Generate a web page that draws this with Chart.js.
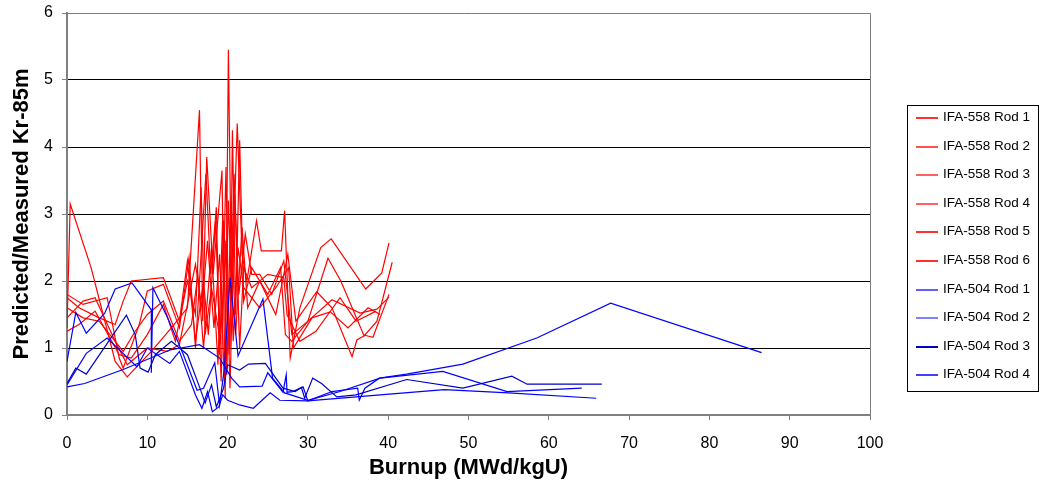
<!DOCTYPE html>
<html>
<head>
<meta charset="utf-8">
<script src="https://cdn.jsdelivr.net/npm/chart.js@4.4.1/dist/chart.umd.min.js"></script>
<style>
    html, body { margin: 0; padding: 0; background: #fff; }
    #wrap { position: relative; width: 1047px; height: 489px; }
    #legend {
        position: absolute; left: 907px; top: 105px; width: 132px; height: 287px;
        border: 1px solid #000; box-sizing: border-box;
        font-family: 'Liberation Sans', Arial, sans-serif; font-size: 13.5px; color: #000;
    }
    .lg-item { position: absolute; left: 8px; height: 16px; line-height: 16px; white-space: nowrap; }
    .lg-line { position: absolute; left: 0; top: 8px; width: 22px; height: 2px; }
    .lg-text { position: absolute; left: 27px; top: 0; }
</style>
</head>
<body>
<div id="wrap">
    <canvas id="chart" width="1047" height="489"></canvas>
    <div id="legend"></div>
</div>
<script>
// ─── Data (burnup MWd/kgU, predicted/measured) ─────────────
const ifa558Rod1 = [[0,1.3],[0.4,3.15],[3,2.2],[6,0.8],[7.5,0.57],[10.5,0.95],[13,1.3],[15,1.6],[16.5,4.55],[16.9,1.4],[17.4,3.85],[18.2,2.1],[19.3,3.65],[19.7,0.25],[20.1,5.45],[20.5,1.7],[21.2,4.35],[21.8,2.4],[22.4,2.0],[23.6,2.9],[24.2,2.45],[26.7,2.45],[27.1,3.05],[27.8,0.85],[29,1.6],[31.6,2.5],[32.9,2.63],[37.2,1.88],[39.2,2.12],[40.1,2.57]];
const ifa558Rod2 = [[0,1.8],[2,1.65],[5,1.75],[6.5,0.85],[7,0.7],[9,1.35],[10,1.85],[12,1.95],[14,1.3],[15.2,2.35],[16,1.0],[17.3,3.6],[17.9,2.1],[18.6,3.1],[19,0.9],[19.5,2.9],[20.3,1.0],[20.6,4.25],[21,1.5],[21.5,4.1],[22,1.7],[23,2.2],[25,1.8],[26.6,2.2],[27.2,1.2],[28,1.1],[30,1.4],[32.5,2.34],[34.1,2.0],[37,1.18],[38.6,1.4],[40.5,2.28]];
const ifa558Rod3 = [[0,1.75],[1.5,1.6],[4,1.45],[6,1.35],[7,1.7],[8,2.0],[12,2.05],[14,1.4],[15,2.3],[16,1.1],[17,2.0],[17.6,1.2],[18.5,2.9],[19.2,0.5],[19.8,3.7],[20.2,0.9],[20.8,3.6],[21.4,1.8],[22.2,2.7],[23,2.1],[24,2.1],[25.5,1.8],[27,2.3],[28,1.2],[29.9,1.39],[33,1.72],[36.5,1.52],[38.6,1.58],[40.1,1.76]];
const ifa558Rod4 = [[0,1.6],[2,1.45],[4,1.4],[7,0.95],[8.5,1.25],[10,1.5],[12,1.7],[14,1.1],[15.5,1.35],[16.3,2.1],[17,1.0],[18,2.5],[18.8,0.75],[19.4,3.0],[19.9,0.6],[20.4,3.1],[21,1.2],[21.8,2.8],[22.5,1.6],[24,2.0],[26,1.5],[27.5,2.4],[28.5,1.4],[31.1,1.84],[33,1.6],[35.5,0.87],[36.1,1.12],[37.1,1.19],[38.1,1.16],[40.1,1.8]];
const ifa558Rod5 = [[0,1.45],[2,1.7],[3.5,1.75],[6,1.1],[7.5,0.75],[10,1.0],[12.5,0.95],[14,1.05],[16,2.25],[16.8,1.6],[17.5,2.6],[18.3,1.3],[19,2.4],[19.6,0.5],[20.1,3.2],[20.7,1.1],[21.3,2.5],[22,1.9],[24,1.6],[26,1.9],[27.6,2.2],[28.2,1.0],[30.5,1.45],[32.8,1.54],[35,1.3],[37.5,1.6],[39,1.5]];
const ifa558Rod6 = [[0,1.25],[1.5,1.35],[3.5,1.55],[6.5,0.9],[8,0.85],[10,1.2],[12,1.65],[13.5,1.1],[15,2.0],[16,1.5],[16.7,3.4],[17.2,1.2],[18,1.9],[19.1,1.1],[19.8,2.6],[20.3,0.4],[20.9,3.3],[21.5,1.0],[22,2.2],[23,1.9],[25,2.1],[27,2.05],[27.4,1.5],[29,1.1],[31,1.25],[34,1.75],[36,1.4],[38.5,1.55]];

const ifa504Rod1 = [[0,0.42],[2.2,0.47],[7,0.68],[12.8,0.97],[16.5,1.05],[19,0.85],[20.5,0.55],[21.5,0.42],[24.3,0.43],[25,0.63],[26.9,0.34],[27.3,0.6],[27.4,0.34],[28.1,0.35],[29.4,0.42],[30,0.21],[33,0.35],[36.2,0.4],[36.4,0.22],[37.1,0.4],[38.9,0.55],[42.3,0.61],[49.3,0.76],[58.5,1.15],[67.7,1.67],[86.5,0.93]];
const ifa504Rod2 = [[0,0.8],[1.1,1.53],[2.4,1.22],[4.7,1.52],[6,1.88],[8.1,1.97],[10.5,1.57],[10.5,0.63],[10.7,1.9],[12.5,1.46],[14.5,0.9],[16.2,0.37],[17,0.4],[18.4,0.78],[19,0.15],[19.6,0.7],[20.3,2.05],[21.3,0.88],[24.4,1.73],[25.6,0.55],[27.1,0.33],[30,0.22],[34,0.35],[39,0.55],[46.8,0.65],[54.8,0.35],[64.1,0.4]];
const ifa504Rod3 = [[0,0.47],[1.1,0.7],[2.4,0.61],[7.4,1.49],[8.5,1.2],[9.1,0.7],[10.1,0.64],[11,0.9],[13,1.1],[15,0.9],[16.5,0.42],[17.2,0.18],[18,0.45],[18.6,0.12],[19.5,0.4],[20,0.75],[21.5,0.67],[22.6,0.76],[24.7,0.77],[26.9,0.4],[28.4,0.35],[29.2,0.41],[29.6,0.25],[30.6,0.55],[31.7,0.47],[33.6,0.27],[36,0.3],[42.3,0.53],[49.3,0.4],[55.4,0.58],[57.3,0.46],[66.6,0.46]];
const ifa504Rod4 = [[0,0.45],[2.4,0.92],[5,1.15],[8.7,0.72],[10,1.0],[12.8,0.77],[14,0.95],[16,0.3],[16.8,0.1],[17.5,0.35],[18.1,0.05],[18.9,0.12],[19.4,0.3],[20,0.22],[21.5,0.15],[23.2,0.1],[25.3,0.33],[26.5,0.22],[30,0.21],[39,0.3],[47,0.38],[55,0.33],[65.9,0.25]];

const seriesNames = ['IFA-558 Rod 1', 'IFA-558 Rod 2', 'IFA-558 Rod 3', 'IFA-558 Rod 4', 'IFA-558 Rod 5', 'IFA-558 Rod 6',
                     'IFA-504 Rod 1', 'IFA-504 Rod 2', 'IFA-504 Rod 3', 'IFA-504 Rod 4'];
const seriesData = [ifa558Rod1, ifa558Rod2, ifa558Rod3, ifa558Rod4, ifa558Rod5, ifa558Rod6,
                    ifa504Rod1, ifa504Rod2, ifa504Rod3, ifa504Rod4];
const seriesColors = ['#ff0000', '#ff0000', '#ff0000', '#ff0000', '#ff0000', '#ff0000',
                      '#0000ff', '#0000ff', '#0000cc', '#0000ff'];
const legendColors = ['#ff3030', '#ff5050', '#ff6060', '#ff6060', '#ff3030', '#ff3030',
                      '#6060ff', '#8080ff', '#0000c0', '#4040ff'];
const xTicks = [0, 10, 20, 30, 40, 50, 60, 70, 80, 90, 100];
const yTicks = [0, 1, 2, 3, 4, 5, 6];

const FONT = "'Liberation Sans', Arial, sans-serif";
const AXIS = '#808080';

// plot frame (top + right edges)
const frame = {
    id: 'frame',
    afterDatasetsDraw(chart) {
        const { ctx, chartArea: a } = chart;
        ctx.save();
        ctx.strokeStyle = AXIS;
        ctx.lineWidth = 1;
        ctx.beginPath();
        ctx.moveTo(a.left, Math.round(a.top) + 0.5);
        ctx.lineTo(Math.round(a.right) + 0.5, Math.round(a.top) + 0.5);
        ctx.lineTo(Math.round(a.right) + 0.5, a.bottom);
        ctx.stroke();
        ctx.restore();
    }
};

const datasets = seriesData.map((pts, i) => ({
    label: seriesNames[i],
    data: pts.map(p => ({ x: p[0], y: p[1] })),
    borderColor: seriesColors[i],
    backgroundColor: seriesColors[i],
    borderWidth: 1.2,
    pointRadius: 0,
    showLine: true,
    tension: 0,
    order: -i
}));

new Chart(document.getElementById('chart'), {
    type: 'scatter',
    data: { datasets },
    options: {
        responsive: false, animation: false,
        layout: { padding: { top: 13, right: 177, left: 0, bottom: 0 } },
        plugins: { legend: { display: false }, tooltip: { enabled: false } },
        scales: {
            x: {
                type: 'linear', min: 0, max: 100,
                afterFit: s => { s.height = 74; s.paddingLeft = 0; s.paddingRight = 0; },
                afterBuildTicks: s => { s.ticks = xTicks.map(v => ({ value: v })); },
                border: { color: AXIS, width: 2 },
                grid: { drawOnChartArea: false, color: AXIS, tickLength: 5 },
                ticks: { color: '#000', padding: 14, maxRotation: 0, font: { family: FONT, size: 16 } },
                title: { display: true, text: 'Burnup (MWd/kgU)', color: '#000', padding: { top: 0, bottom: 8 },
                         font: { family: FONT, size: 22, weight: 'bold' } }
            },
            y: {
                type: 'linear', min: 0, max: 6,
                afterFit: s => { s.width = 67; s.paddingTop = 0; s.paddingBottom = 0; },
                afterBuildTicks: s => { s.ticks = yTicks.map(v => ({ value: v })); },
                border: { color: AXIS, width: 2 },
                grid: { color: '#000', lineWidth: 1, tickLength: 5, tickColor: AXIS },
                ticks: { color: '#000', padding: 9, font: { family: FONT, size: 16 } },
                title: { display: true, text: 'Predicted/Measured Kr-85m', color: '#000', padding: { top: 9, bottom: 0 },
                         font: { family: FONT, size: 22, weight: 'bold' } }
            }
        }
    },
    plugins: [frame]
});

// ─── Legend ─────────────────────────────────────────────────
const legend = document.getElementById('legend');
seriesNames.forEach((name, i) => {
    const item = document.createElement('div');
    item.className = 'lg-item';
    item.style.top = Math.round(3 + i * 28.6) + 'px';
    item.innerHTML = `<span class="lg-line" style="background:${legendColors[i]}"></span><span class="lg-text">${name}</span>`;
    legend.appendChild(item);
});
</script>
</body>
</html>
